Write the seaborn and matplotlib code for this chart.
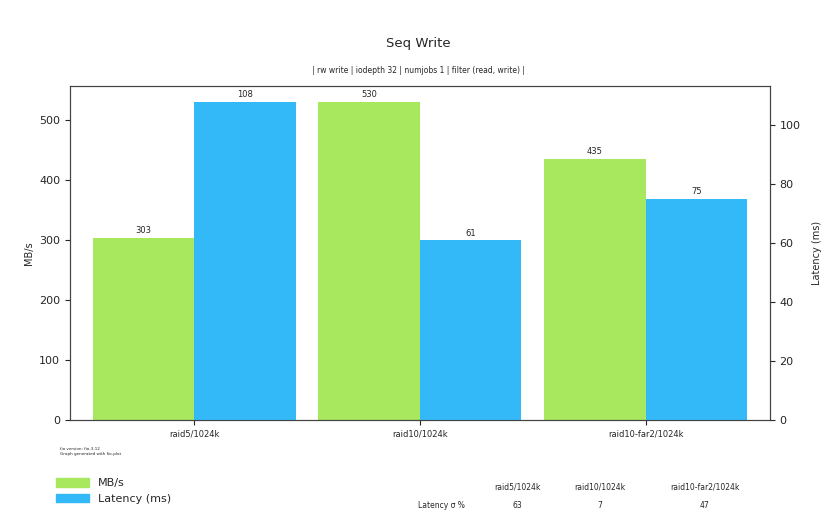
import numpy as np
import pandas as pd
import matplotlib
matplotlib.use("Agg")
import matplotlib.pyplot as plt
import seaborn as sns
from matplotlib.patches import Patch

# data
configs = ["raid5/1024k", "raid10/1024k", "raid10-far2/1024k"]
mbps = [303, 530, 435]
latency = [108, 61, 75]
lat_stdev = [63, 7, 47]

green = "#a8e85e"
blue = "#33b8f8"

rows = []
for c, m, l in zip(configs, mbps, latency):
    rows.append({"config": c, "metric": "MB/s", "mbps": m, "lat": np.nan})
    rows.append({"config": c, "metric": "Latency (ms)", "mbps": np.nan, "lat": l})
df = pd.DataFrame(rows)
hue_order = ["MB/s", "Latency (ms)"]
pal = {"MB/s": green, "Latency (ms)": blue}

sns.set_style("ticks")
fig = plt.figure(figsize=(8.37, 5.27), dpi=100)
ax = fig.add_axes([0.0836, 0.203, 0.836, 0.634])
ax2 = ax.twinx()

sns.barplot(data=df, x="config", y="mbps", hue="metric", hue_order=hue_order,
            palette=pal, order=configs, width=0.9, errorbar=None, ax=ax,
            legend=False, saturation=1, linewidth=0)
sns.barplot(data=df, x="config", y="lat", hue="metric", hue_order=hue_order,
            palette=pal, order=configs, width=0.9, errorbar=None, ax=ax2,
            legend=False, saturation=1, linewidth=0)

ax.bar_label(ax.containers[0], labels=[str(v) for v in mbps], fontsize=6, padding=2)
ax2.bar_label(ax2.containers[1], labels=[str(v) for v in latency], fontsize=6, padding=2)

ax.set_xlim(-0.55, 2.55)
ax.set_ylim(0, max(mbps) * 1.05)
ax2.set_ylim(0, max(latency) * 1.05)
ax.set_yticks(range(0, 501, 100))
ax2.set_yticks(range(0, 101, 20))
ax.set_xlabel("")
ax.set_ylabel("MB/s", fontsize=7)
ax2.set_ylabel("Latency (ms)", fontsize=7, labelpad=8)
ax.tick_params(axis="y", labelsize=8)
ax2.tick_params(axis="y", labelsize=8)
ax.tick_params(axis="x", labelsize=6)
for a in (ax, ax2):
    for s in a.spines.values():
        s.set_visible(True)
        s.set_color("#444444")

fig.text(0.5, 0.918, "Seq Write", ha="center", va="center", fontsize=9.5)
fig.text(0.5, 0.867, "| rw write | iodepth 32 | numjobs 1 | filter (read, write) |",
         ha="center", va="center", fontsize=5.5)
fig.text(0.072, 0.143, "fio version: fio-3.12\nGraph generated with fio-plot",
         fontsize=3, va="center")

handles = [Patch(color=green, label="MB/s"), Patch(color=blue, label="Latency (ms)")]
fig.legend(handles=handles, loc="center left", bbox_to_anchor=(0.055, 0.068),
           frameon=False, fontsize=8, handlelength=3, handleheight=0.8)

# latency stdev table
col_x = [0.618, 0.717, 0.842]
for x, c, v in zip(col_x, configs, lat_stdev):
    fig.text(x, 0.075, c, ha="center", va="center", fontsize=5.5)
    fig.text(x, 0.04, str(v), ha="center", va="center", fontsize=5.5)
fig.text(0.528, 0.04, "Latency \u03c3 %", ha="center", va="center", fontsize=5.5)

fig.savefig("out.png", dpi=100)
